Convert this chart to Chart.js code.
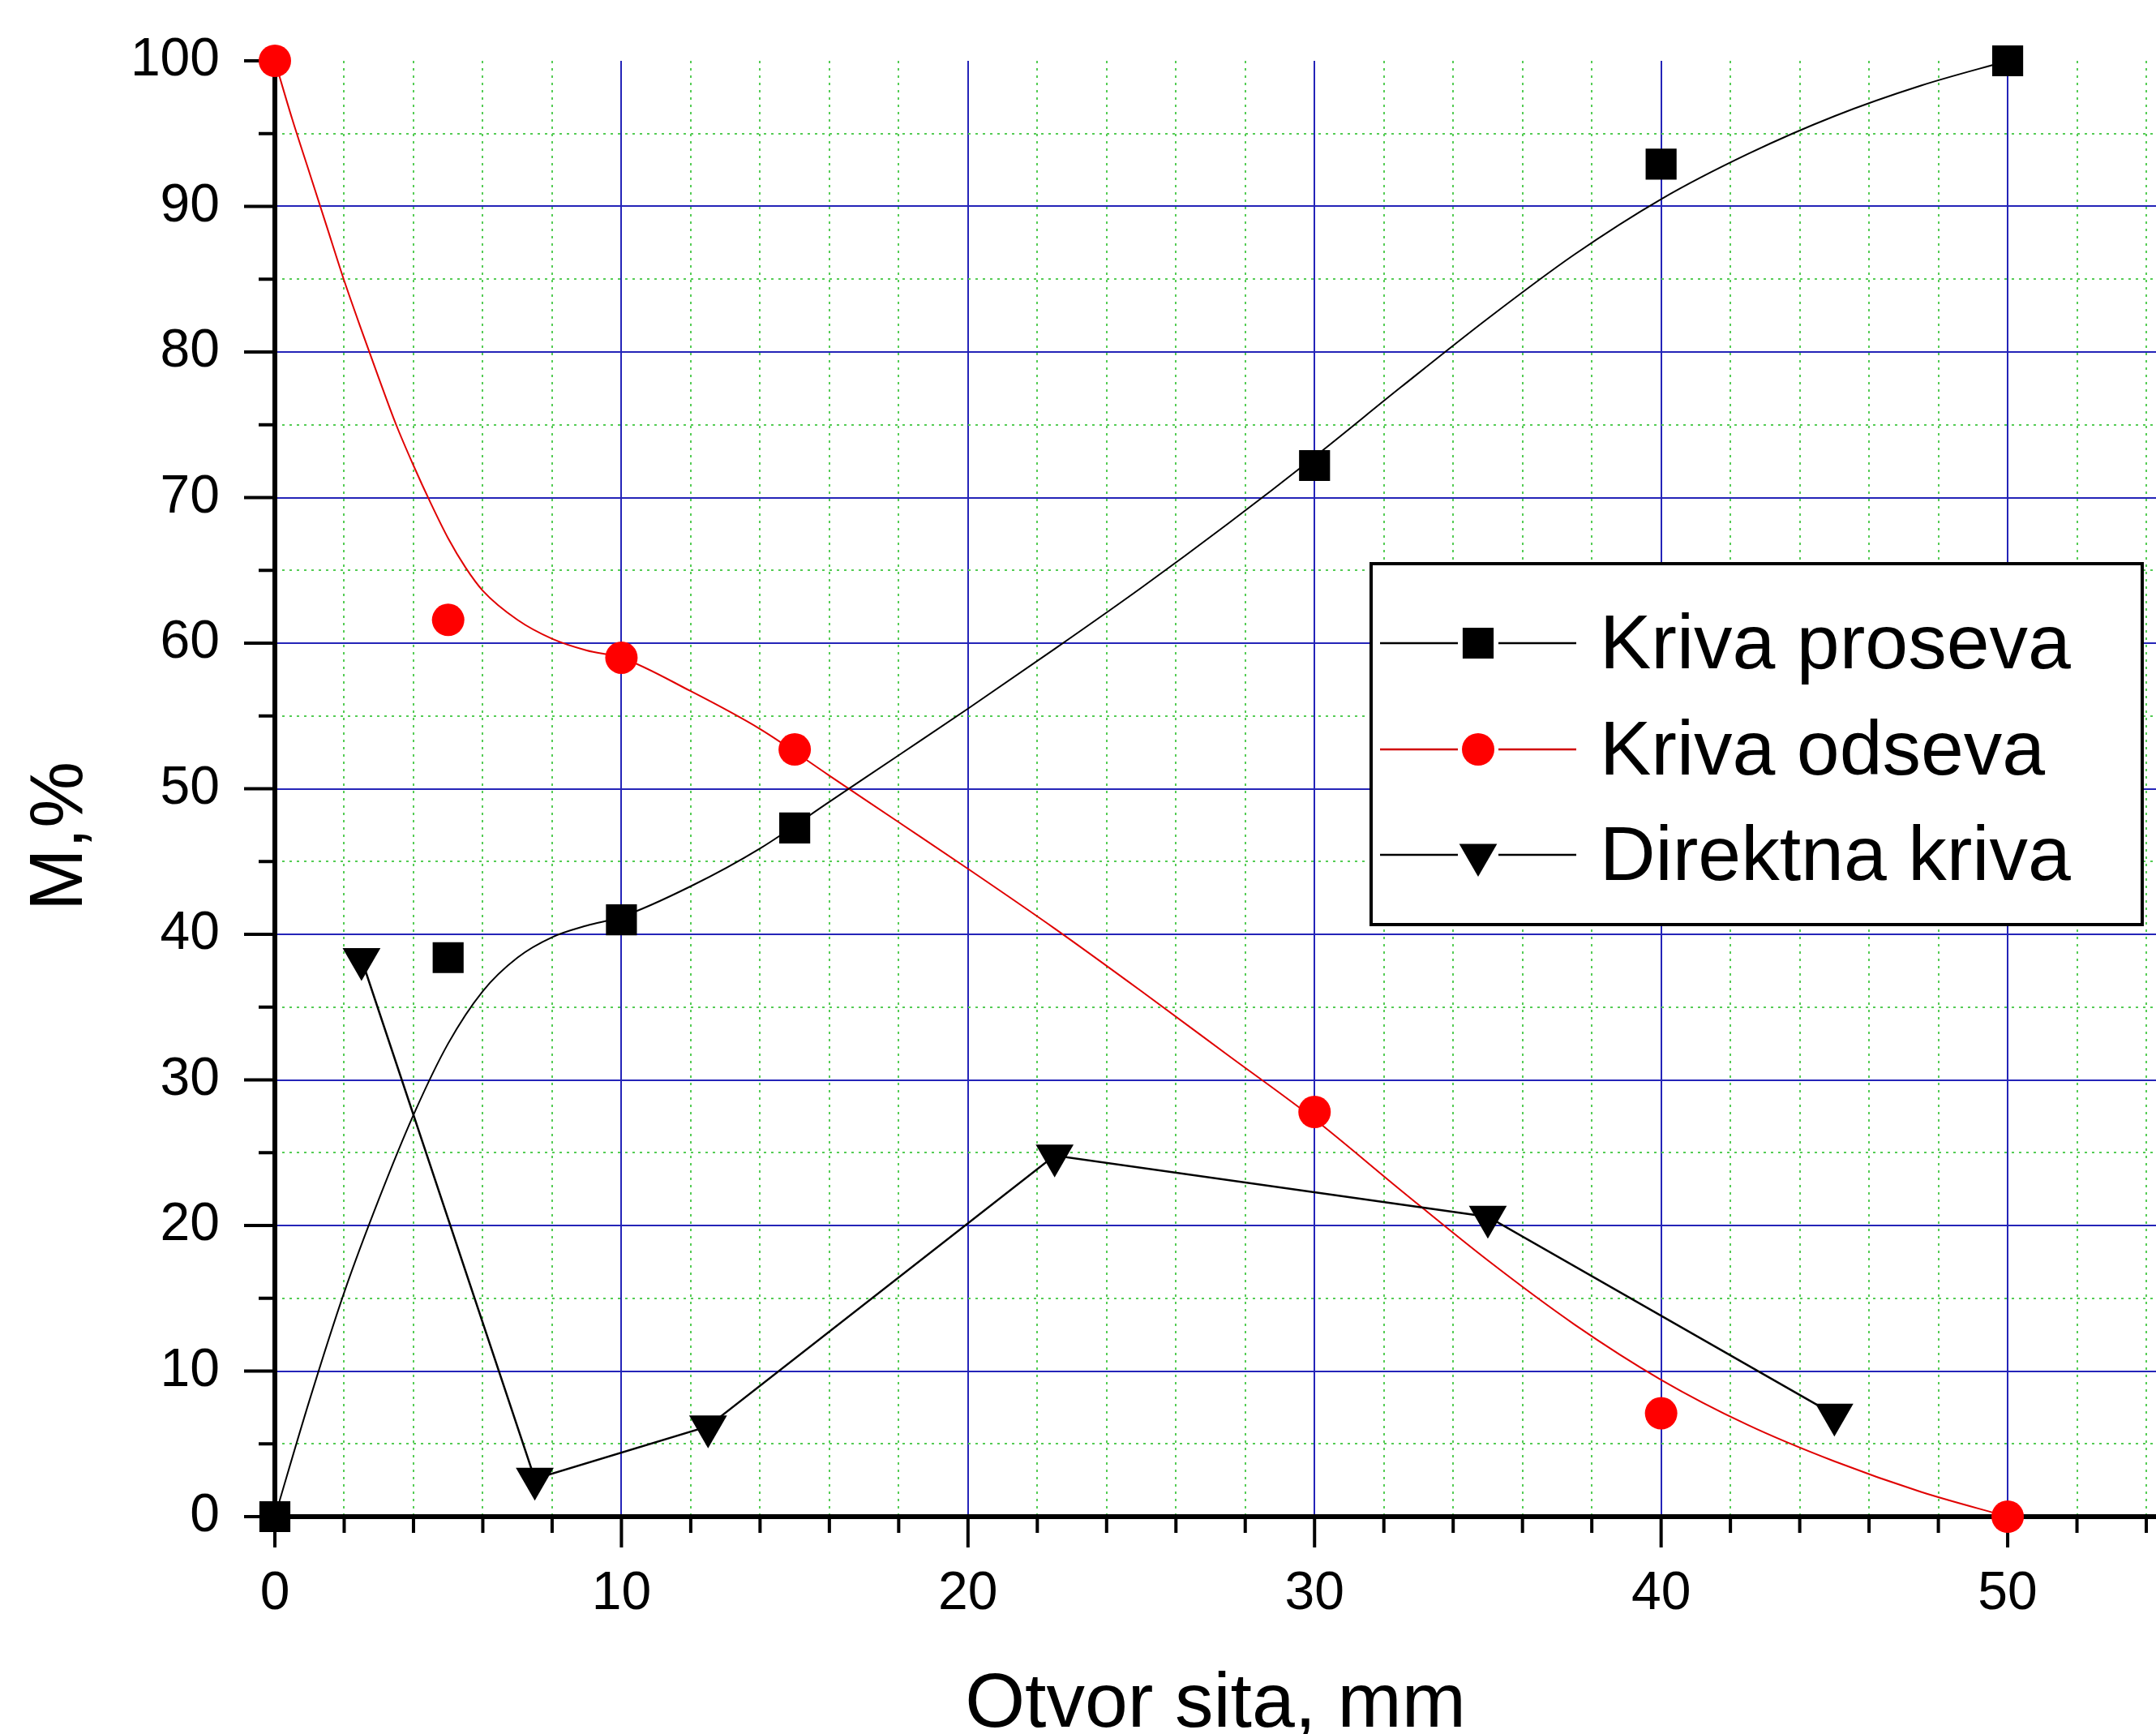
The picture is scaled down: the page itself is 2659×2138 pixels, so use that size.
<!DOCTYPE html>
<html>
<head>
<meta charset="utf-8">
<script src="https://cdn.jsdelivr.net/npm/chart.js@4/dist/chart.umd.min.js"></script>
<style>
html,body{margin:0;padding:0;background:#fff;overflow:hidden;}
canvas{display:block;}
</style>
</head>
<body>
<canvas id="c" width="2659" height="2138"></canvas>
<script>
// ---------- data ----------
const sieveX        = [0, 5, 10, 15, 30, 40, 50];
const prosevValues  = [0, 38.4, 41.0, 47.3, 72.2, 92.9, 100];
const odsevValues   = [100, 61.6, 59.0, 52.7, 27.8, 7.1, 0];

const direktnaX      = [2.5, 7.5, 12.5, 22.5, 35, 45];
const direktnaValues = [38.3, 2.6, 6.2, 24.8, 20.6, 7.0];

// smooth fitted curves
const prosevCurveX = [0, 1, 2, 3, 4, 5, 6, 7, 8, 9, 10, 12, 14, 16, 18, 20, 22.5, 25, 27.5, 30, 32.5, 35, 37.5, 40, 42.5, 45, 47.5, 50];
const prosevCurveY = [0, 8, 15.4, 21.8, 27.6, 32.5, 36.1, 38.4, 39.8, 40.6, 41.2, 43.3, 45.9, 49.1, 52.3, 55.5, 59.6, 63.8, 68.2, 72.8, 77.6, 82.3, 86.7, 90.5, 93.6, 96.2, 98.3, 100];

const odsevCurveX = [0, 0.5, 1, 1.5, 2, 2.5, 3, 3.5, 4, 4.5, 5, 5.5, 6, 7, 8, 9, 10, 12, 14, 16, 18, 20, 22.5, 25, 27.5, 30, 32.5, 35, 37.5, 40, 42.5, 45, 47.5, 50];
const odsevCurveY = [100, 96, 92.3, 88.6, 84.9, 81.5, 78.2, 75.0, 72.2, 69.6, 67.2, 65.2, 63.6, 61.6, 60.3, 59.5, 59.0, 56.7, 54.1, 50.9, 47.7, 44.5, 40.4, 36.1, 31.7, 27.3, 22.4, 17.6, 13.2, 9.4, 6.3, 3.8, 1.7, 0];

// axes / ticks
const xTickLabels = ['0', '10', '20', '30', '40', '50'];
const yTickLabels = ['0', '10', '20', '30', '40', '50', '60', '70', '80', '90', '100'];
const xGridValues = [0,2,4,6,8,10,12,14,16,18,20,22,24,26,28,30,32,34,36,38,40,42,44,46,48,50,52,54];
const yGridValues = [0,5,10,15,20,25,30,35,40,45,50,55,60,65,70,75,80,85,90,95,100];

const seriesNames = ['Kriva proseva', 'Kriva odseva', 'Direktna kriva'];
const xTitle = 'Otvor sita, mm';
const yTitle = 'M,%';

// ---------- styling ----------
const FONT = '"Liberation Sans", Arial, Helvetica, sans-serif';
const BLUE = '#2424b8';
const GREEN = '#55cc55';
const RED = '#ff0000';

const pts = (xs, ys) => xs.map((x, i) => ({x: x, y: ys[i]}));
const isMajor = v => Math.abs(v % 10) < 1e-9;

function gridColor(ctx, edgeVals) {
  const v = ctx.tick ? ctx.tick.value : null;
  if (v === null || edgeVals.includes(v)) return 'rgba(0,0,0,0)';
  return isMajor(v) ? BLUE : GREEN;
}
function gridDash(ctx) {
  const v = ctx.tick ? ctx.tick.value : 0;
  return isMajor(v) ? [] : [3, 6];
}
function noPad(s) {
  s.paddingTop = 0; s.paddingBottom = 0; s.paddingLeft = 0; s.paddingRight = 0;
}

function drawMarker(ctx, style, x, y, r, color) {
  ctx.save();
  ctx.fillStyle = color;
  ctx.beginPath();
  if (style === 'rect') {
    const s = r * Math.SQRT1_2;
    ctx.rect(x - s, y - s, 2 * s, 2 * s);
  } else if (style === 'circle') {
    ctx.arc(x, y, r, 0, Math.PI * 2);
  } else if (style === 'triangleDown') {
    ctx.moveTo(x, y + r);
    ctx.lineTo(x - r * Math.sin(Math.PI / 3), y - r / 2);
    ctx.lineTo(x + r * Math.sin(Math.PI / 3), y - r / 2);
    ctx.closePath();
  }
  ctx.fill();
  ctx.restore();
}

const axesPlugin = {
  id: 'originAxes',
  beforeDatasetsDraw(chart) {
    const {ctx, chartArea: a, scales: {x, y}} = chart;
    ctx.save();
    ctx.strokeStyle = '#000';
    ctx.lineCap = 'butt';
    ctx.lineWidth = 4;
    ctx.beginPath();
    for (const v of yGridValues) {
      const py = y.getPixelForValue(v);
      const len = isMajor(v) ? 38 : 20;
      ctx.moveTo(a.left - len, py); ctx.lineTo(a.left, py);
    }
    for (const v of xGridValues) {
      const px = x.getPixelForValue(v);
      const len = isMajor(v) ? 38 : 20;
      ctx.moveTo(px, a.bottom); ctx.lineTo(px, a.bottom + len);
    }
    ctx.stroke();
    ctx.lineWidth = 6;
    ctx.beginPath();
    ctx.moveTo(a.left, a.top); ctx.lineTo(a.left, a.bottom + 3);
    ctx.moveTo(a.left - 3, a.bottom); ctx.lineTo(a.right, a.bottom);
    ctx.stroke();
    ctx.restore();
  },
  afterDraw(chart) {
    const {ctx} = chart;
    // y axis title
    ctx.save();
    ctx.translate(76, 1031);
    ctx.rotate(-Math.PI / 2);
    ctx.font = '92px ' + FONT;
    ctx.fillStyle = '#000';
    ctx.textAlign = 'center';
    ctx.textBaseline = 'middle';
    ctx.fillText(yTitle, 0, 0);
    ctx.restore();

    // legend box
    const box = {x: 1691, y: 695, w: 951, h: 445};
    ctx.save();
    ctx.fillStyle = '#fff';
    ctx.fillRect(box.x, box.y, box.w, box.h);
    ctx.lineWidth = 4;
    ctx.strokeStyle = '#000';
    ctx.strokeRect(box.x, box.y, box.w, box.h);
    const rows = [
      {y: 793, line: '#000', marker: 'rect', r: 27, mc: '#000'},
      {y: 924, line: '#d00000', marker: 'circle', r: 20, mc: RED},
      {y: 1054, line: '#000', marker: 'triangleDown', r: 27, mc: '#000'}
    ];
    rows.forEach((row, i) => {
      ctx.strokeStyle = row.line;
      ctx.lineWidth = 2.5;
      ctx.beginPath();
      ctx.moveTo(1702, row.y); ctx.lineTo(1798, row.y);
      ctx.moveTo(1848, row.y); ctx.lineTo(1944, row.y);
      ctx.stroke();
      drawMarker(ctx, row.marker, 1823, row.y, row.r, row.mc);
      ctx.fillStyle = '#000';
      ctx.font = '95px ' + FONT;
      ctx.textAlign = 'left';
      ctx.textBaseline = 'alphabetic';
      ctx.fillText(seriesNames[i], 1973, row.y + 31);
    });
    ctx.restore();
  }
};

new Chart(document.getElementById('c'), {
  type: 'line',
  data: {
    datasets: [
      {
        label: seriesNames[0],
        data: pts(sieveX, prosevValues),
        showLine: false,
        pointStyle: 'rect',
        pointRadius: 27,
        pointBackgroundColor: '#000',
        pointBorderColor: '#000',
        pointBorderWidth: 0,
        clip: false
      },
      {
        label: seriesNames[1],
        data: pts(sieveX, odsevValues),
        showLine: false,
        pointStyle: 'circle',
        pointRadius: 20,
        pointBackgroundColor: RED,
        pointBorderColor: RED,
        pointBorderWidth: 0,
        clip: false
      },
      {
        label: seriesNames[2],
        data: pts(direktnaX, direktnaValues),
        borderColor: '#000',
        borderWidth: 2.5,
        tension: 0,
        pointStyle: 'triangle',
        pointRotation: 180,
        pointRadius: 27,
        pointBackgroundColor: '#000',
        pointBorderColor: '#000',
        pointBorderWidth: 0,
        clip: false
      },
      {
        label: seriesNames[0] + ' (fit)',
        data: pts(prosevCurveX, prosevCurveY),
        borderColor: '#000',
        borderWidth: 2,
        pointRadius: 0,
        cubicInterpolationMode: 'monotone',
        clip: false
      },
      {
        label: seriesNames[1] + ' (fit)',
        data: pts(odsevCurveX, odsevCurveY),
        borderColor: '#e00000',
        borderWidth: 2,
        pointRadius: 0,
        cubicInterpolationMode: 'monotone',
        clip: false
      }
    ]
  },
  options: {
    responsive: false,
    devicePixelRatio: 1,
    animation: false,
    events: [],
    layout: {autoPadding: false, padding: {top: 75, right: 0, bottom: 0, left: 0}},
    plugins: {legend: {display: false}, tooltip: {enabled: false}},
    scales: {
      x: {
        type: 'linear',
        min: 0,
        max: 54.28,
        afterBuildTicks: s => { s.ticks = xGridValues.map(v => ({value: v})); },
        afterFit: s => { s.height = 268; noPad(s); },
        ticks: {
          autoSkip: false,
          maxRotation: 0,
          padding: 56,
          color: '#000',
          font: {family: FONT, size: 66},
          callback: v => (xTickLabels.includes(String(v)) ? String(v) : '')
        },
        grid: {
          drawTicks: false,
          lineWidth: 2,
          color: ctx => gridColor(ctx, [0])
        },
        border: {display: false, dash: gridDash},
        title: {
          display: true,
          text: xTitle,
          color: '#000',
          font: {family: FONT, size: 95, lineHeight: 1},
          padding: {top: 0, bottom: -12}
        }
      },
      y: {
        type: 'linear',
        min: 0,
        max: 100,
        afterBuildTicks: s => { s.ticks = yGridValues.map(v => ({value: v})); },
        afterFit: s => { s.width = 339; noPad(s); },
        ticks: {
          autoSkip: false,
          padding: 68,
          color: '#000',
          font: {family: FONT, size: 66},
          callback: v => (yTickLabels.includes(String(v)) ? String(v) : '')
        },
        grid: {
          drawTicks: false,
          lineWidth: 2,
          color: ctx => gridColor(ctx, [0, 100])
        },
        border: {display: false, dash: gridDash}
      }
    }
  },
  plugins: [axesPlugin]
});
</script>
</body>
</html>
